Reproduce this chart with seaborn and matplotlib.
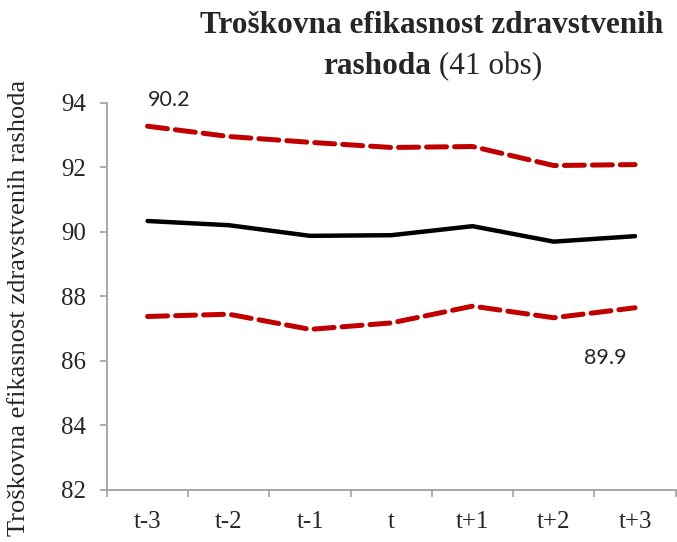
"""Troškovna efikasnost zdravstvenih rashoda - event window chart"""
import pandas as pd
import seaborn as sns
import matplotlib.pyplot as plt

periods = ['t-3', 't-2', 't-1', 't', 't+1', 't+2', 't+3']
mean_vals = [90.34, 90.21, 89.88, 89.90, 90.18, 89.70, 89.87]
upper_vals = [93.28, 92.96, 92.78, 92.62, 92.65, 92.06, 92.09]
lower_vals = [87.38, 87.45, 86.98, 87.18, 87.70, 87.34, 87.65]
yticks = [82, 84, 86, 88, 90, 92, 94]
note_first = '90.2'
note_last = '89.9'

df = pd.DataFrame({'period': periods * 3,
                   'value': mean_vals + upper_vals + lower_vals,
                   'series': ['mean'] * 7 + ['upper'] * 7 + ['lower'] * 7})
df['x'] = df['period'].map({p: i for i, p in enumerate(periods)})

sns.set_style('white')
plt.rcParams['font.family'] = ['Liberation Serif', 'DejaVu Serif']

fig = plt.figure(figsize=(6.77, 5.42), dpi=100)
ax = fig.add_axes([0.158, 0.096, 0.84, 0.714])

sns.lineplot(data=df, x='x', y='value', hue='series', style='series',
             palette={'mean': 'black', 'upper': '#C00000', 'lower': '#C00000'},
             dashes={'mean': '', 'upper': (4, 1.6), 'lower': (4, 1.6)},
             legend=False, ax=ax)
for ln in ax.get_lines():
    if ln.get_color() == 'black':
        ln.set_linewidth(3.2)
    else:
        ln.set_linewidth(3.6)
        ln.set_dash_capstyle('round')

ax.set_xlim(-0.5, len(periods) - 0.5)
ax.set_ylim(82, 94)
ax.set_yticks(yticks)
ax.set_xticks(range(len(periods)))
ax.set_xticklabels(periods)
ax.set_xticks([i - 0.5 for i in range(len(periods) + 1)], minor=True)
ax.tick_params(axis='x', which='major', length=0, pad=15, labelsize=18)
ax.tick_params(axis='x', which='minor', length=5, color='#A0A0A0', width=1.2, bottom=True)
ax.tick_params(axis='y', length=5, color='#A0A0A0', width=1.2, left=True, pad=10, labelsize=18)
for s in ['top', 'right']:
    ax.spines[s].set_visible(False)
for s in ['left', 'bottom']:
    ax.spines[s].set_color('#A0A0A0')
    ax.spines[s].set_linewidth(1.3)
ax.set_xlabel('')
ax.set_ylabel('Troškovna efikasnost zdravstvenih rashoda', fontsize=19)
ax.yaxis.set_label_coords(-0.136, 0.47)

ax.text(0, 94.09, note_first, ha='left', va='center', fontsize=15.5,
        family='Lato', clip_on=False)
ax.text(5.63, 86.1, note_last, ha='center', va='center', fontsize=15.5,
        family='Lato')

fig.text(0.637, 0.939, 'Troškovna efikasnost zdravstvenih', ha='center',
         va='baseline', fontsize=22.5, fontweight='bold')
fig.text(0.637, 0.863, 'rashoda', ha='right', va='baseline',
         fontsize=22.5, fontweight='bold')
fig.text(0.637, 0.863, ' (41 obs)', ha='left', va='baseline', fontsize=22.5)

fig.savefig('out.png', dpi=100)
